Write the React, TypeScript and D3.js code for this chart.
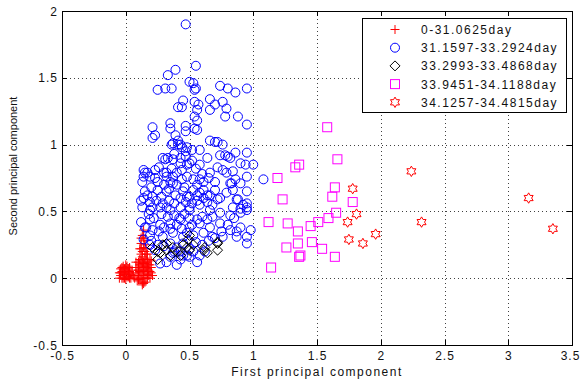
import * as d3 from 'd3';

type Pt = [number, number];

const xTicks = [-0.5, 0, 0.5, 1, 1.5, 2, 2.5, 3, 3.5];
const yTicks = [-0.5, 0, 0.5, 1, 1.5, 2];

const legendLabels = [
    '0-31.0625day',
    '31.1597-33.2924day',
    '33.2993-33.4868day',
    '33.9451-34.1188day',
    '34.1257-34.4815day',
];

const redPts: Pt[] = [
    [-0.04, 0.02], [-0.03, 0.05], [-0.02, 0.0], [-0.01, 0.03], [0.0, 0.06], [0.01, 0.01],
    [0.02, 0.04], [-0.03, 0.08], [0.0, -0.01], [0.03, 0.0], [0.02, 0.07], [-0.02, 0.09],
    [0.04, 0.03], [0.05, 0.06], [0.01, 0.09], [-0.05, 0.04],
    [-0.05, 0.0], [-0.04, 0.07], [-0.03, 0.0], [-0.02, 0.04], [-0.01, 0.07], [-0.01, 0.0],
    [0.0, 0.03], [0.01, 0.05], [0.02, 0.01], [0.03, 0.05], [0.03, 0.08], [0.04, 0.0],
    [0.05, 0.02], [-0.04, 0.04], [0.0, 0.1],
    [0.07, 0.0], [0.08, 0.04], [0.09, -0.02], [0.1, 0.02], [0.1, 0.06], [0.11, 0.1],
    [0.12, 0.0], [0.12, 0.04], [0.13, 0.08], [0.13, -0.03], [0.14, 0.02], [0.14, 0.12],
    [0.15, 0.05], [0.15, 0.15], [0.16, 0.0], [0.16, 0.09], [0.17, 0.03], [0.17, 0.12],
    [0.18, 0.06], [0.19, 0.0], [0.19, 0.1], [0.2, 0.04], [0.11, 0.14], [0.12, 0.18],
    [0.09, 0.08], [0.08, 0.12], [0.2, 0.13], [0.14, -0.04], [0.06, 0.02],
    [0.08, 0.08], [0.09, 0.02], [0.1, 0.12], [0.1, -0.01], [0.11, 0.05], [0.11, 0.0],
    [0.12, 0.08], [0.12, 0.13], [0.13, 0.02], [0.13, 0.11], [0.13, 0.16], [0.14, 0.06],
    [0.14, 0.09], [0.15, 0.0], [0.15, 0.11], [0.15, 0.2], [0.16, 0.05], [0.16, 0.14],
    [0.17, 0.07], [0.17, 0.0], [0.18, 0.1], [0.18, 0.02], [0.19, 0.05], [0.19, 0.14],
    [0.2, 0.08], [0.21, 0.02], [0.13, -0.05], [0.15, -0.03], [0.16, 0.18],
    [0.13, 0.2], [0.14, 0.23], [0.12, 0.26], [0.15, 0.28], [0.13, 0.32], [0.16, 0.22],
    [0.14, 0.36], [0.11, 0.22], [0.17, 0.18], [0.12, 0.22], [0.14, 0.3], [0.15, 0.25], [0.12, 0.3],
];

const bluePts: Pt[] = [
    [0.47, 1.9], [0.55, 1.59], [0.39, 1.56], [0.33, 1.52], [0.25, 1.41], [0.31, 1.42], [0.36, 1.42],
    [0.5, 1.47], [0.53, 1.46], [0.55, 1.42], [0.54, 1.41],
    [0.74, 1.44], [0.8, 1.42], [0.86, 1.39], [0.95, 1.42],
    [0.45, 1.33], [0.41, 1.28], [0.44, 1.28],
    [0.54, 1.32], [0.57, 1.3], [0.56, 1.26], [0.54, 1.21], [0.56, 1.18], [0.54, 1.12],
    [0.66, 1.34], [0.7, 1.3], [0.76, 1.32], [0.79, 1.27], [0.78, 1.21], [0.88, 1.21], [0.95, 1.15], [0.66, 1.26],
    [0.35, 1.16], [0.35, 1.12], [0.21, 1.13], [0.23, 1.07], [0.21, 1.05],
    [0.47, 1.14], [0.47, 1.1], [0.56, 1.11],
    [0.39, 1.07], [0.41, 1.03], [0.36, 1.0], [0.41, 1.0], [0.44, 0.98], [0.48, 0.98], [0.47, 0.95], [0.47, 0.91],
    [0.58, 0.96], [0.64, 0.9], [0.58, 0.85], [0.7, 1.02], [0.66, 1.03],
    [0.76, 1.0], [0.78, 0.92], [0.8, 0.91], [0.86, 0.94], [0.82, 0.9], [0.72, 0.83], [0.76, 0.81], [0.84, 0.8], [0.82, 0.71],
    [0.95, 0.94], [0.94, 0.85], [0.95, 0.76],
    [0.31, 0.89],
    [0.14, 0.81], [0.15, 0.79], [0.13, 0.72], [0.19, 0.76], [0.23, 0.81],
    [0.35, 0.72], [0.37, 0.71], [0.32, 0.76], [0.4, 0.79], [0.44, 0.81], [0.48, 0.76], [0.53, 0.74], [0.56, 0.7], [0.58, 0.74], [0.61, 0.66],
    [0.25, 0.66], [0.28, 0.61], [0.32, 0.65], [0.39, 0.62], [0.45, 0.65], [0.5, 0.61], [0.56, 0.62], [0.64, 0.57], [0.68, 0.55],
    [0.79, 0.64], [0.83, 0.71], [0.86, 0.74], [0.88, 0.59], [0.95, 0.53],
    [0.14, 0.6], [0.19, 0.57], [0.13, 0.53], [0.21, 0.53], [0.32, 0.53], [0.43, 0.53], [0.5, 0.53], [0.58, 0.55],
    [0.37, 1.01], [0.43, 1.0], [0.52, 0.96], [0.72, 1.02], [0.74, 0.92],
    [0.29, 0.9], [0.37, 0.89], [0.43, 0.86], [0.5, 0.86],
    [0.17, 0.79], [0.14, 0.76], [0.23, 0.75], [0.32, 0.79], [0.37, 0.76], [0.44, 0.74], [0.61, 0.72], [0.66, 0.79],
    [0.9, 0.86], [1.0, 0.85], [0.79, 0.79], [0.9, 0.71], [0.95, 0.65], [0.84, 0.66], [1.08, 0.74],
    [0.21, 0.61], [0.48, 0.61], [0.64, 0.62], [0.72, 0.59], [0.87, 0.59], [0.92, 0.55], [0.95, 0.51],
    [0.19, 0.51], [0.27, 0.53], [0.35, 0.51], [0.5, 0.51], [0.66, 0.51], [0.74, 0.49], [0.82, 0.47], [0.9, 0.49],
    [0.19, 0.44], [0.27, 0.4], [0.35, 0.41], [0.43, 0.44], [0.5, 0.38], [0.58, 0.41], [0.66, 0.38], [0.74, 0.41], [0.82, 0.36], [0.9, 0.38], [0.98, 0.36],
    [0.19, 0.32], [0.29, 0.31], [0.37, 0.34], [0.45, 0.31], [0.53, 0.32], [0.61, 0.34], [0.68, 0.31], [0.76, 0.31], [0.87, 0.31], [0.95, 0.31],
    [0.95, 0.56], [0.84, 0.53], [0.87, 0.35], [0.95, 0.26],
    [0.27, 0.11], [0.32, 0.12], [0.4, 0.1], [0.43, 0.14], [0.5, 0.16], [0.56, 0.12], [0.37, 0.19], [0.45, 0.17], [0.35, 0.16],
    [0.15, 0.38], [0.14, 0.29], [0.19, 0.25], [0.23, 0.21],
    [0.15, 0.65], [0.2, 0.68], [0.25, 0.72], [0.3, 0.7], [0.18, 0.48], [0.22, 0.45], [0.28, 0.48], [0.33, 0.46],
    [0.38, 0.47], [0.42, 0.45], [0.46, 0.48], [0.5, 0.45], [0.12, 0.42], [0.16, 0.38], [0.21, 0.36], [0.26, 0.35],
    [0.3, 0.38], [0.35, 0.37], [0.4, 0.4], [0.44, 0.37], [0.48, 0.34], [0.52, 0.4], [0.56, 0.44], [0.6, 0.46],
    [0.64, 0.44], [0.68, 0.46], [0.12, 0.58], [0.17, 0.62], [0.24, 0.58], [0.29, 0.56], [0.34, 0.58], [0.38, 0.56],
    [0.43, 0.6], [0.47, 0.57], [0.52, 0.56], [0.56, 0.58], [0.61, 0.6], [0.66, 0.62], [0.7, 0.66], [0.74, 0.6],
    [0.2, 0.28], [0.25, 0.25], [0.3, 0.24], [0.35, 0.26], [0.4, 0.23], [0.45, 0.26], [0.5, 0.22], [0.55, 0.27],
    [0.6, 0.25], [0.65, 0.28], [0.7, 0.3], [0.75, 0.35], [0.8, 0.4], [0.85, 0.45], [0.9, 0.52],
    [0.38, 0.2], [0.43, 0.2], [0.48, 0.17], [0.53, 0.2], [0.58, 0.17], [0.62, 0.2],
    [0.33, 0.9], [0.38, 0.93], [0.43, 0.9], [0.48, 0.85], [0.52, 0.88], [0.55, 0.82], [0.6, 0.78], [0.65, 0.75],
    [0.7, 0.72], [0.26, 0.83], [0.3, 0.79], [0.36, 0.82], [0.34, 0.67], [0.4, 0.7], [0.46, 0.68], [0.53, 0.66], [0.58, 0.64],
];

const blackPts: Pt[] = [
    [0.21, 0.23], [0.25, 0.2], [0.27, 0.19], [0.25, 0.14], [0.32, 0.21], [0.35, 0.17], [0.37, 0.23],
    [0.41, 0.2], [0.43, 0.17], [0.45, 0.25], [0.48, 0.23], [0.49, 0.29], [0.5, 0.32], [0.5, 0.21],
    [0.53, 0.25], [0.61, 0.21], [0.62, 0.23], [0.64, 0.19], [0.72, 0.26], [0.72, 0.21], [0.72, 0.27],
    [0.32, 0.26], [0.29, 0.25],
];

const magentaPts: Pt[] = [
    [1.58, 1.13], [1.36, 0.85], [1.33, 0.83], [1.66, 0.89], [1.19, 0.75], [1.23, 0.59], [1.64, 0.68],
    [1.62, 0.61], [1.78, 0.57], [1.65, 0.49], [1.59, 0.45], [1.51, 0.42], [1.45, 0.39], [1.12, 0.42],
    [1.27, 0.41], [1.35, 0.35], [1.26, 0.23], [1.35, 0.26], [1.46, 0.27], [1.54, 0.22], [1.37, 0.17],
    [1.36, 0.16], [1.64, 0.16], [1.14, 0.08],
];

const starPts: Pt[] = [
    [1.78, 0.67], [1.81, 0.48], [1.74, 0.42], [1.96, 0.33], [1.75, 0.29], [1.86, 0.26],
    [2.24, 0.8], [2.32, 0.42], [3.16, 0.6], [3.35, 0.37],
];

const W = 581;
const H = 386;
const plot = { left: 62, right: 572, top: 11, bottom: 345 };
const font = '"Liberation Sans", Arial, Helvetica, sans-serif';

const x = d3.scaleLinear().domain([-0.5, 3.5]).range([plot.left, plot.right]);
const y = d3.scaleLinear().domain([-0.5, 2]).range([plot.bottom, plot.top]);

type Kind = 'plus' | 'circle' | 'diamond' | 'square' | 'hexagram';
const kinds: Kind[] = ['plus', 'circle', 'diamond', 'square', 'hexagram'];
const colors = ['#ff0000', '#0000ff', '#000000', '#ff00ff', '#ff0000'];

function hexagram(R: number) {
    const r = R / Math.sqrt(3);
    const pts: [number, number][] = d3.range(12).map((i) => {
        const a = -Math.PI / 2 + (i * Math.PI) / 6;
        const rr = i % 2 === 0 ? R : r;
        return [rr * Math.cos(a), rr * Math.sin(a)];
    });
    return d3.line()(pts) + 'Z';
}
const hexPath = hexagram(5.2);

function Marker({ kind, cx, cy, color }: { kind: Kind; cx: number; cy: number; color: string }) {
    const common = { fill: 'none', stroke: color, strokeWidth: 1 };
    switch (kind) {
        case 'plus':
            return <path d={`M${cx - 4.5},${cy}H${cx + 4.5}M${cx},${cy - 4.5}V${cy + 4.5}`} {...common} />;
        case 'circle':
            return <circle cx={cx} cy={cy} r={4.5} {...common} />;
        case 'diamond':
            return <path d={`M${cx},${cy - 5}L${cx + 5},${cy}L${cx},${cy + 5}L${cx - 5},${cy}Z`} {...common} />;
        case 'square':
            return <rect x={cx - 4.5} y={cy - 4.5} width={9} height={9} {...common} />;
        default:
            return <path d={hexPath} transform={`translate(${cx},${cy})`} {...common} />;
    }
}

const fmt = (v: number) => String(v);
const spacing = 1.5;
const tickSpacing = 1;

export default function App() {
    const series = [redPts, bluePts, blackPts, magentaPts, starPts];
    const legend = { x: 362, y: 18, w: 204, h: 94 };

    return (
        <div style={{ position: 'absolute', left: 0, top: 0 }}>
            <svg width={W} height={H} viewBox={`0 0 ${W} ${H}`} style={{ display: 'block', background: '#fff' }}>
                <rect x={0} y={0} width={W} height={H} fill="#fff" />
                {/* grid */}
                <g stroke="#404040" strokeWidth={1} strokeDasharray="1 3">
                    {xTicks.slice(1, -1).map((t) => (
                        <line key={'gx' + t} x1={Math.round(x(t)) + 0.5} x2={Math.round(x(t)) + 0.5} y1={plot.top} y2={plot.bottom} />
                    ))}
                    {yTicks.slice(1, -1).map((t) => (
                        <line key={'gy' + t} y1={Math.round(y(t)) + 0.5} y2={Math.round(y(t)) + 0.5} x1={plot.left} x2={plot.right} />
                    ))}
                </g>
                {/* data */}
                {series.map((pts, si) => (
                    <g key={si}>
                        {pts.map(([a, b], i) => (
                            <Marker key={i} kind={kinds[si]} cx={x(a)} cy={y(b)} color={colors[si]} />
                        ))}
                    </g>
                ))}
                {/* box and ticks */}
                <rect
                    x={plot.left + 0.5}
                    y={plot.top + 0.5}
                    width={plot.right - plot.left}
                    height={plot.bottom - plot.top}
                    fill="none"
                    stroke="#000"
                />
                <g stroke="#000" strokeWidth={1}>
                    {xTicks.map((t) => {
                        const px = Math.round(x(t)) + 0.5;
                        return (
                            <g key={'tx' + t}>
                                <line x1={px} x2={px} y1={plot.bottom} y2={plot.bottom - 5} />
                                <line x1={px} x2={px} y1={plot.top} y2={plot.top + 5} />
                            </g>
                        );
                    })}
                    {yTicks.map((t) => {
                        const py = Math.round(y(t)) + 0.5;
                        return (
                            <g key={'ty' + t}>
                                <line x1={plot.left} x2={plot.left + 5} y1={py} y2={py} />
                                <line x1={plot.right} x2={plot.right - 5} y1={py} y2={py} />
                            </g>
                        );
                    })}
                </g>
                <g fontFamily={font} fontSize={12} fill="#111" letterSpacing={tickSpacing}>
                    {xTicks.map((t) => (
                        <text
                            key={'lx' + t}
                            x={Math.min(x(t), W - 11) + tickSpacing / 2}
                            y={plot.bottom + 15}
                            textAnchor="middle"
                        >
                            {fmt(t)}
                        </text>
                    ))}
                    {yTicks.map((t) => (
                        <text key={'ly' + t} x={plot.left - 5 + tickSpacing} y={y(t) + 4.5} textAnchor="end">
                            {fmt(t)}
                        </text>
                    ))}
                </g>
                <text x={317} y={376} textAnchor="middle" fontFamily={font} fontSize={12} fill="#111" letterSpacing={spacing}>
                    First principal component
                </text>
                <text
                    transform={`translate(17,166) rotate(-90)`}
                    textAnchor="middle"
                    fontFamily={font}
                    fontSize={11}
                    fill="#111"
                >
                    Second principal component
                </text>
                {/* legend */}
                <rect x={legend.x + 0.5} y={legend.y + 0.5} width={legend.w} height={legend.h} fill="#fff" stroke="#000" />
                {legendLabels.map((lab, i) => {
                    const cy = legend.y + 11.5 + i * 18.2;
                    return (
                        <g key={lab}>
                            <Marker kind={kinds[i]} cx={395} cy={cy} color={colors[i]} />
                            <text
                                x={421}
                                y={cy + 4.5}
                                fontFamily={font}
                                fontSize={12}
                                letterSpacing={spacing}
                                fill="#111"
                            >
                                {lab}
                            </text>
                        </g>
                    );
                })}
            </svg>
        </div>
    );
}
